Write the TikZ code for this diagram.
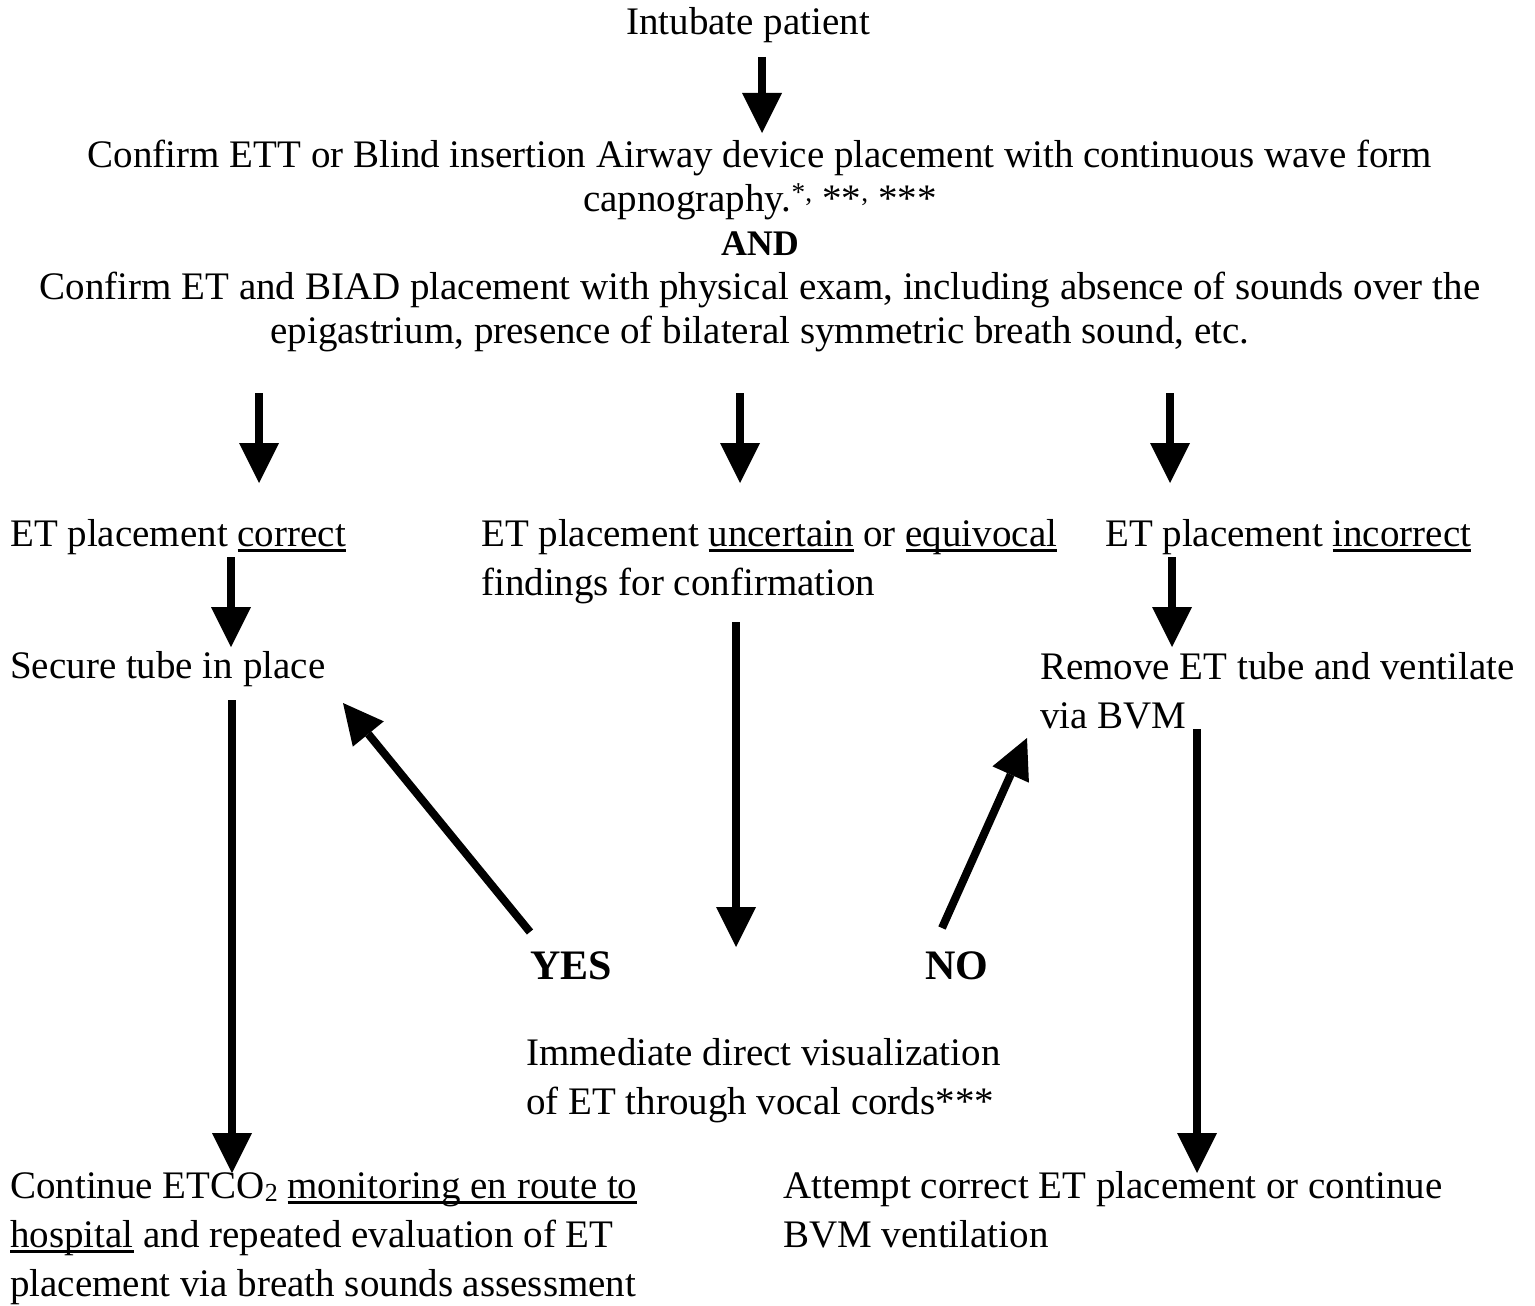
\documentclass[tikz,border=0pt]{standalone}
\usepackage{fontspec}
\setmainfont{Liberation Serif}
\usetikzlibrary{arrows.meta}
\newcommand\ulw[1]{\setbox0\hbox{#1}\rlap{\rule[-6pt]{\wd0}{3pt}}\box0\relax}
\newcommand\subtwo{\raisebox{-3pt}{\fontsize{26}{26}\selectfont 2}}
\begin{document}
\begin{tikzpicture}[x=1pt,y=-1pt,
  txt/.style={inner sep=0pt, font=\fontsize{39}{49}\selectfont, anchor=base west, align=left},
  toptxt/.style={inner sep=0pt, font=\fontsize{39}{44}\selectfont, anchor=base, align=center},
  big/.style={inner sep=0pt, font=\bfseries\fontsize{42}{49}\selectfont, anchor=base west},
  flow/.style={line width=8pt, -{Triangle[width=40pt,length=40pt,line width=0pt]}},
]
\useasboundingbox (0,0) rectangle (1535,1306);
\fill[white] (0,0) rectangle (1535,1306);

% text nodes (multi-line nodes are placed by the baseline of their last line)
\node[toptxt] (intub) at (748,35) {Intubate patient};
\node[toptxt] (confirm) at (760,343) {Confirm ETT or Blind insertion Airway device placement with continuous wave form\\
capnography.\textsuperscript{*,} **\textsuperscript{,} ***\\
{\bfseries\fontsize{36}{44}\selectfont AND}\\
Confirm ET and BIAD placement with physical exam, including absence of sounds over the\\
epigastrium, presence of bilateral symmetric breath sound, etc.};

\node[txt] (correct) at (10,546) {ET placement \ulw{correct}};
\node[txt] (uncertain) at (481,595) {ET placement \ulw{uncertain} or \ulw{equivocal}\\findings for confirmation};
\node[txt] (incorrect) at (1105,546) {ET placement \ulw{incorrect}};
\node[txt] (secure) at (10,678) {Secure tube in place};
\node[txt] (remove) at (1040,728) {Remove ET tube and ventilate\\via BVM};
\node[big] (yes) at (530,979) {YES};
\node[big] (no) at (925,979) {NO};
\node[txt] (visual) at (526,1114) {Immediate direct visualization\\of ET through vocal cords***};
\node[txt] (continue) at (10,1296) {Continue ETCO\subtwo{} \ulw{monitoring en route to}\\\ulw{hospital} and repeated evaluation of ET\\placement via breath sounds assessment};
\node[txt] (attempt) at (783,1247) {Attempt correct ET placement or continue\\BVM ventilation};

% connector end points
\coordinate (a0s) at (762,57);   \coordinate (a0e) at (762,133);
\coordinate (a1s) at (259,393);  \coordinate (a1e) at (259,483);
\coordinate (a2s) at (740,393);  \coordinate (a2e) at (740,483);
\coordinate (a3s) at (1170,393); \coordinate (a3e) at (1170,483);
\coordinate (a4s) at (231,557);  \coordinate (a4e) at (231,647);
\coordinate (a5s) at (1172,557); \coordinate (a5e) at (1172,647);
\coordinate (a6s) at (736,622);  \coordinate (a6e) at (736,947);
\coordinate (a7s) at (232,700);  \coordinate (a7e) at (232,1173);
\coordinate (a8s) at (1197,729); \coordinate (a8e) at (1197,1173);
\coordinate (ays) at (530,932);  \coordinate (aye) at (343,703);
\coordinate (ans) at (942,928);  \coordinate (ane) at (1027,738);

\draw[flow] (a0s) -- (a0e);
\draw[flow] (a1s) -- (a1e);
\draw[flow] (a2s) -- (a2e);
\draw[flow] (a3s) -- (a3e);
\draw[flow] (a4s) -- (a4e);
\draw[flow] (a5s) -- (a5e);
\draw[flow] (a6s) -- (a6e);
\draw[flow] (a7s) -- (a7e);
\draw[flow] (a8s) -- (a8e);
\draw[flow] (ays) -- (aye);
\draw[flow] (ans) -- (ane);
\end{tikzpicture}
\end{document}
